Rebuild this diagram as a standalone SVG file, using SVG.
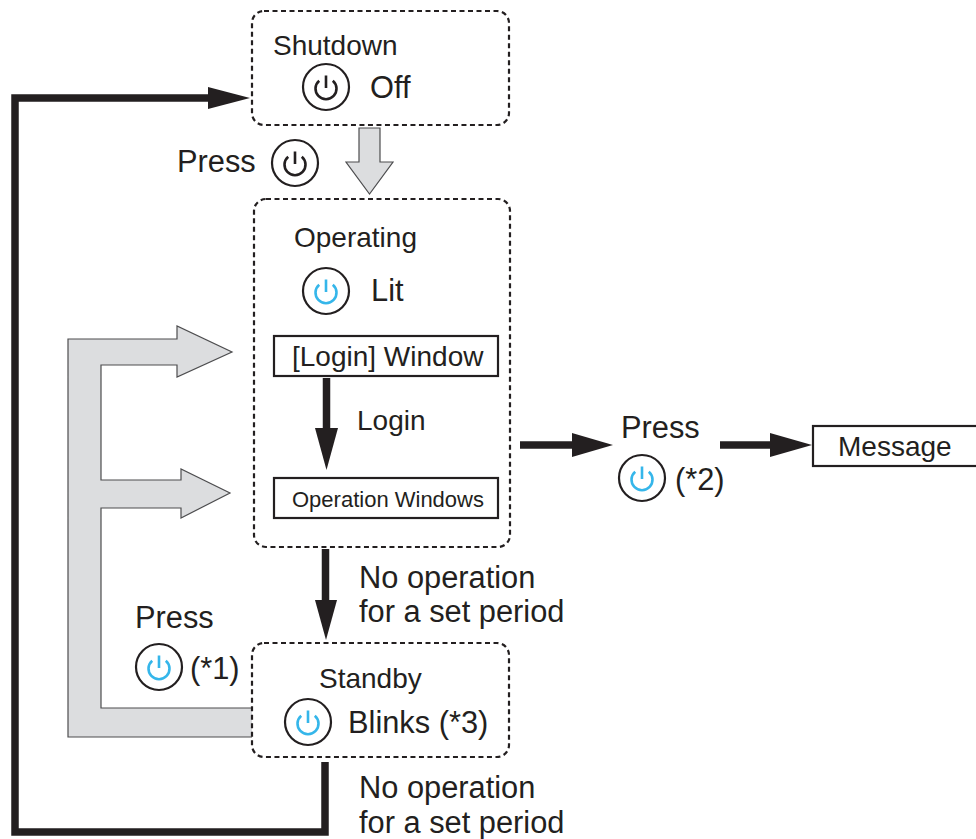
<svg xmlns="http://www.w3.org/2000/svg" width="976" height="839" viewBox="0 0 976 839">
<style>
text{font-family:"Liberation Sans",Arial,sans-serif;fill:#231f20}
.t{font-size:28px}
.m{font-size:30.8px}
.state{fill:none;stroke:#231f20;stroke-width:2.2;stroke-dasharray:5 3.5}
.box{fill:#fff;stroke:#231f20;stroke-width:2.2}
.ring{fill:#fff;stroke:#231f20;stroke-width:2.2}
.glyph{fill:none;stroke-width:2.6;stroke-linecap:butt}
.blk{stroke:#231f20}
.blu{stroke:#35b6ea}
.grey{fill:#dcdddf;stroke:#4d4d4f;stroke-width:1.2}
.line{fill:none;stroke:#231f20;stroke-width:7.5;stroke-linejoin:miter}
.head{fill:#231f20}
</style>
<defs>
<g id="icon-k"><circle class="ring" r="23"/><path class="glyph blk" d="M -6.8 -6.3 A 10.5 10.5 0 1 0 6.8 -6.3 M 0 -11.5 V 1"/></g>
<g id="icon-b"><circle class="ring" r="23"/><path class="glyph blu" d="M -6.8 -6.3 A 10.5 10.5 0 1 0 6.8 -6.3 M 0 -11.5 V 1"/></g>
</defs>
<g id="connectors">
<path class="grey" d="M 252 708 H 101 V 508 H 181 V 518 L 230 493 L 181 469 V 480 H 101 V 365 H 177 V 377 L 232 352 L 177 326 V 339 H 68 V 737 H 252"/>
<path class="grey" d="M 359 128 H 380 V 162 H 393 L 369.5 194 L 346 162 H 359 Z"/>
<polyline class="line" points="325,762 325,832 15,832 15,98 212,98"/>
<polygon class="head" points="208,87 250,98 208,109"/>
<line class="line" x1="326.5" y1="378" x2="326.5" y2="432"/>
<polygon class="head" points="315,428 338,428 326.5,470"/>
<line class="line" x1="325.5" y1="549" x2="325.5" y2="604"/>
<polygon class="head" points="315,600 337,600 326,640"/>
<line class="line" x1="520" y1="445" x2="575" y2="445"/>
<polygon class="head" points="572,433 613,445 572,457"/>
<line class="line" x1="720" y1="445" x2="773" y2="445"/>
<polygon class="head" points="770,433 812,445 770,457"/>
</g>
<g id="shutdown">
<rect class="state" x="252" y="11" width="257" height="114" rx="12"/>
<text class="t" x="273" y="55">Shutdown</text>
<use href="#icon-k" x="326" y="87"/>
<text class="m" x="370" y="98">Off</text>
</g>
<g id="press-on">
<text class="m" x="177" y="172">Press</text>
<use href="#icon-k" x="295" y="163"/>
</g>
<g id="operating">
<rect class="state" x="254" y="199" width="256" height="348" rx="12"/>
<text class="t" x="294" y="247">Operating</text>
<use href="#icon-b" x="326" y="291"/>
<text class="m" x="371" y="301">Lit</text>
</g>
<g id="login-window">
<rect class="box" x="274" y="336" width="224" height="40"/>
<text class="t" x="292" y="366">[Login] Window</text>
</g>
<g id="login-label">
<text class="t" x="357" y="430">Login</text>
</g>
<g id="operation-windows">
<rect class="box" x="274" y="478" width="224" height="40"/>
<text x="292" y="507" font-size="22">Operation Windows</text>
</g>
<g id="press-2">
<text class="m" x="621" y="438">Press</text>
<use href="#icon-b" x="642" y="478"/>
<text class="m" x="675" y="490">(*2)</text>
</g>
<g id="message">
<rect class="box" x="813" y="426" width="170" height="40"/>
<text class="t" x="838" y="456">Message</text>
</g>
<g id="timeout-1">
<text class="m" x="359" y="588">No operation</text>
<text class="m" x="359" y="622">for a set period</text>
</g>
<g id="press-1">
<text class="m" x="135" y="628">Press</text>
<use href="#icon-b" x="159" y="667"/>
<text class="m" x="190" y="679">(*1)</text>
</g>
<g id="standby">
<rect class="state" x="252" y="643" width="257" height="114" rx="12"/>
<text class="t" x="319" y="688">Standby</text>
<use href="#icon-b" x="308" y="722"/>
<text class="m" x="348" y="733">Blinks (*3)</text>
</g>
<g id="timeout-2">
<text class="m" x="359" y="798">No operation</text>
<text class="m" x="359" y="833">for a set period</text>
</g>
</svg>
